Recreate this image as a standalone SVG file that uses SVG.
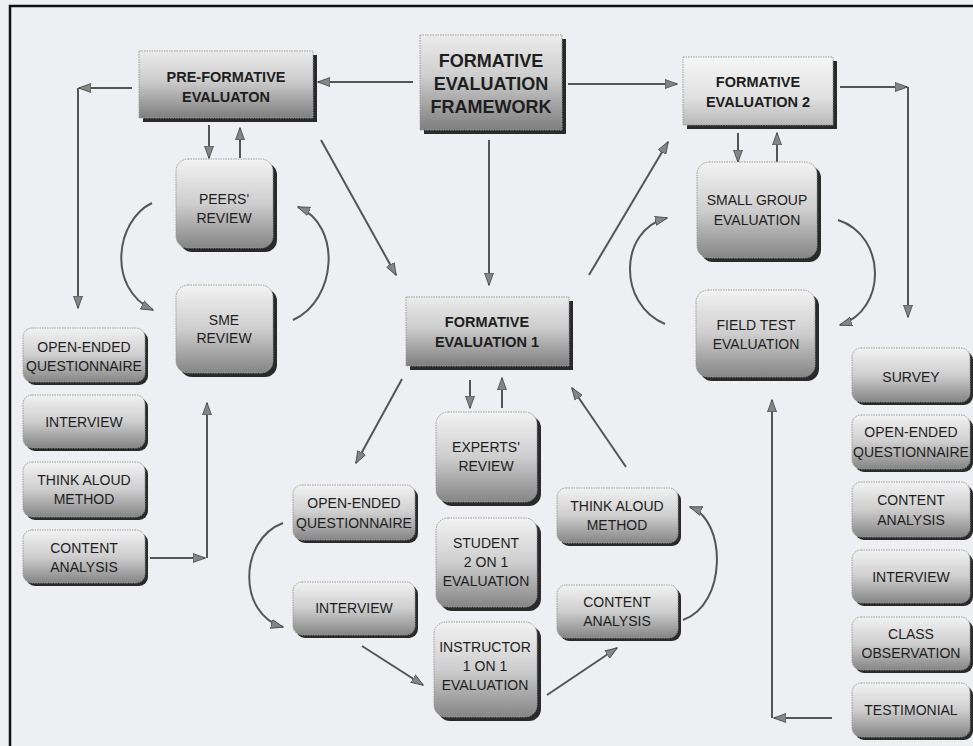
<svg xmlns="http://www.w3.org/2000/svg" width="973" height="746" viewBox="0 0 973 746">
<style>
.bg{fill:#edeff3}
.frame{fill:none;stroke:#111;stroke-width:2.5}
.sh{fill:#2a2a2a}
.hd{fill:url(#gHead);stroke:#9a9a9a;stroke-width:1;stroke-dasharray:1.5 1}
.lt{fill:url(#gLight);stroke:#9a9a9a;stroke-width:1;stroke-dasharray:1.5 1}
.rb{fill:url(#gRound);stroke:#9a9a9a;stroke-width:1;stroke-dasharray:1.5 1}
text{font-family:"Liberation Sans",Arial,sans-serif;fill:#1e1e1e;text-anchor:middle}
.t{font-size:14px}
.b{font-size:14.5px;font-weight:bold}
.big{font-size:18px;font-weight:bold}
.c{fill:none;stroke:#555;stroke-width:2}
</style>
<defs>
<linearGradient id="gHead" x1="0" y1="0" x2="0" y2="1">
<stop offset="0" stop-color="#ececec"/>
<stop offset="0.45" stop-color="#cccccc"/>
<stop offset="1" stop-color="#7e7e7e"/>
</linearGradient>
<linearGradient id="gLight" x1="0" y1="0" x2="0" y2="1">
<stop offset="0" stop-color="#f6f6f6"/>
<stop offset="0.6" stop-color="#e0e0e0"/>
<stop offset="1" stop-color="#b8b8b8"/>
</linearGradient>
<linearGradient id="gRound" x1="0" y1="0" x2="0" y2="1">
<stop offset="0" stop-color="#f2f2f2"/>
<stop offset="0.5" stop-color="#cecece"/>
<stop offset="1" stop-color="#858585"/>
</linearGradient>
<marker id="ah" markerUnits="userSpaceOnUse" markerWidth="13" markerHeight="10" refX="12" refY="5" orient="auto">
<path d="M0,0.5 L12.5,5 L0,9.5 Z" fill="#858585" stroke="#444" stroke-width="0.8"/>
</marker>
</defs>
<rect class="bg" x="0" y="0" width="973" height="746"/>
<path class="frame" d="M10,746 L10,6 L973,6"/>

<g id="connectors">
<path class="c" d="M132,88 L79,88" marker-end="url(#ah)"/>
<path class="c" d="M78,88 L78,308" marker-end="url(#ah)"/>
<path class="c" d="M413,82 L318,82" marker-end="url(#ah)"/>
<path class="c" d="M568,84 L677,84" marker-end="url(#ah)"/>
<path class="c" d="M840,87 L907,87" marker-end="url(#ah)"/>
<path class="c" d="M908,87 L908,317" marker-end="url(#ah)"/>
<path class="c" d="M209,125 L209,158" marker-end="url(#ah)"/>
<path class="c" d="M240,158 L240,128" marker-end="url(#ah)"/>
<path class="c" d="M738,133 L738,162" marker-end="url(#ah)"/>
<path class="c" d="M777,162 L777,133" marker-end="url(#ah)"/>
<path class="c" d="M489,140 L489,285" marker-end="url(#ah)"/>
<path class="c" d="M321,140 L396,275" marker-end="url(#ah)"/>
<path class="c" d="M589,275 L668,142" marker-end="url(#ah)"/>
<path class="c" d="M152,203 C116,220 106,288 153,310" marker-end="url(#ah)"/>
<path class="c" d="M293,320 C337,300 342,225 298,207" marker-end="url(#ah)"/>
<path class="c" d="M838,220 C887,236 887,310 840,325" marker-end="url(#ah)"/>
<path class="c" d="M665,324 C618,305 618,230 667,218" marker-end="url(#ah)"/>
<path class="c" d="M150,558 L205,558" marker-end="url(#ah)"/>
<path class="c" d="M207,558 L207,403" marker-end="url(#ah)"/>
<path class="c" d="M470,380 L470,408" marker-end="url(#ah)"/>
<path class="c" d="M502,408 L502,378" marker-end="url(#ah)"/>
<path class="c" d="M402,379 L356,463" marker-end="url(#ah)"/>
<path class="c" d="M283,523 C238,540 238,615 283,627" marker-end="url(#ah)"/>
<path class="c" d="M362,646 L423,685" marker-end="url(#ah)"/>
<path class="c" d="M547,695 L617,648" marker-end="url(#ah)"/>
<path class="c" d="M683,620 C727,605 727,520 690,507" marker-end="url(#ah)"/>
<path class="c" d="M626,467 L572,388" marker-end="url(#ah)"/>
<path class="c" d="M832,718 L774,718" marker-end="url(#ah)"/>
<path class="c" d="M772,718 L772,400" marker-end="url(#ah)"/>
</g>

<g id="pre-formative">
<rect class="sh" x="143" y="55" width="174" height="67"/>
<rect class="hd" x="139" y="51" width="174" height="67"/>
<text class="b" x="226" y="82">PRE-FORMATIVE</text>
<text class="b" x="226" y="102">EVALUATON</text>
</g>
<g id="framework">
<rect class="sh" x="424" y="39" width="142" height="95"/>
<rect class="hd" x="420" y="35" width="142" height="95"/>
<text class="big" x="491" y="67">FORMATIVE</text>
<text class="big" x="491" y="90">EVALUATION</text>
<text class="big" x="491" y="113">FRAMEWORK</text>
</g>
<g id="fe2">
<rect class="sh" x="687" y="61" width="150" height="68"/>
<rect class="lt" x="683" y="57" width="150" height="68"/>
<text class="b" x="758" y="87">FORMATIVE</text>
<text class="b" x="758" y="107">EVALUATION 2</text>
</g>
<g id="fe1">
<rect class="sh" x="410" y="301" width="163" height="69"/>
<rect class="hd" x="406" y="297" width="163" height="69"/>
<text class="b" x="487" y="327">FORMATIVE</text>
<text class="b" x="487" y="347">EVALUATION 1</text>
</g>

<g id="peers-review">
<rect class="sh" x="180" y="163" width="97" height="89" rx="12"/>
<rect class="rb" x="176" y="159" width="97" height="89" rx="12"/>
<text class="t" x="224" y="204">PEERS'</text>
<text class="t" x="224" y="223">REVIEW</text>
</g>
<g id="sme-review">
<rect class="sh" x="180" y="289" width="97" height="88" rx="12"/>
<rect class="rb" x="176" y="285" width="97" height="88" rx="12"/>
<text class="t" x="224" y="325">SME</text>
<text class="t" x="224" y="343">REVIEW</text>
</g>
<g id="small-group">
<rect class="sh" x="701" y="166" width="120" height="96" rx="12"/>
<rect class="rb" x="697" y="162" width="120" height="96" rx="12"/>
<text class="t" x="757" y="205">SMALL GROUP</text>
<text class="t" x="757" y="225">EVALUATION</text>
</g>
<g id="field-test">
<rect class="sh" x="700" y="294" width="119" height="87" rx="12"/>
<rect class="rb" x="696" y="290" width="119" height="87" rx="12"/>
<text class="t" x="756" y="330">FIELD TEST</text>
<text class="t" x="756" y="349">EVALUATION</text>
</g>

<g id="l-open-ended">
<rect class="sh" x="26" y="331" width="122" height="54" rx="9"/>
<rect class="rb" x="23" y="328" width="122" height="54" rx="9"/>
<text class="t" x="84" y="352">OPEN-ENDED</text>
<text class="t" x="84" y="371">QUESTIONNAIRE</text>
</g>
<g id="l-interview">
<rect class="sh" x="26" y="398" width="122" height="53" rx="9"/>
<rect class="rb" x="23" y="395" width="122" height="53" rx="9"/>
<text class="t" x="84" y="427">INTERVIEW</text>
</g>
<g id="l-think-aloud">
<rect class="sh" x="26" y="465" width="122" height="55" rx="9"/>
<rect class="rb" x="23" y="462" width="122" height="55" rx="9"/>
<text class="t" x="84" y="485">THINK ALOUD</text>
<text class="t" x="84" y="504">METHOD</text>
</g>
<g id="l-content">
<rect class="sh" x="26" y="533" width="122" height="53" rx="9"/>
<rect class="rb" x="23" y="530" width="122" height="53" rx="9"/>
<text class="t" x="84" y="553">CONTENT</text>
<text class="t" x="84" y="572">ANALYSIS</text>
</g>

<g id="experts-review">
<rect class="sh" x="440" y="416" width="101" height="90" rx="12"/>
<rect class="rb" x="436" y="412" width="101" height="90" rx="12"/>
<text class="t" x="486" y="452">EXPERTS'</text>
<text class="t" x="486" y="471">REVIEW</text>
</g>
<g id="student">
<rect class="sh" x="440" y="522" width="101" height="89" rx="12"/>
<rect class="rb" x="436" y="518" width="101" height="89" rx="12"/>
<text class="t" x="486" y="548">STUDENT</text>
<text class="t" x="486" y="567">2 ON 1</text>
<text class="t" x="486" y="586">EVALUATION</text>
</g>
<g id="instructor">
<rect class="sh" x="438" y="626" width="103" height="95" rx="12"/>
<rect class="rb" x="434" y="622" width="103" height="95" rx="12"/>
<text class="t" x="485" y="652">INSTRUCTOR</text>
<text class="t" x="485" y="671">1 ON 1</text>
<text class="t" x="485" y="690">EVALUATION</text>
</g>
<g id="b-open-ended">
<rect class="sh" x="296" y="488" width="122" height="55" rx="9"/>
<rect class="rb" x="293" y="485" width="122" height="55" rx="9"/>
<text class="t" x="354" y="508">OPEN-ENDED</text>
<text class="t" x="354" y="528">QUESTIONNAIRE</text>
</g>
<g id="b-interview">
<rect class="sh" x="296" y="585" width="122" height="53" rx="9"/>
<rect class="rb" x="293" y="582" width="122" height="53" rx="9"/>
<text class="t" x="354" y="613">INTERVIEW</text>
</g>
<g id="b-think-aloud">
<rect class="sh" x="560" y="491" width="121" height="55" rx="9"/>
<rect class="rb" x="557" y="488" width="121" height="55" rx="9"/>
<text class="t" x="617" y="511">THINK ALOUD</text>
<text class="t" x="617" y="530">METHOD</text>
</g>
<g id="b-content">
<rect class="sh" x="560" y="588" width="121" height="53" rx="9"/>
<rect class="rb" x="557" y="585" width="121" height="53" rx="9"/>
<text class="t" x="617" y="607">CONTENT</text>
<text class="t" x="617" y="626">ANALYSIS</text>
</g>

<g id="r-survey">
<rect class="sh" x="855" y="351" width="118" height="54" rx="9"/>
<rect class="rb" x="852" y="348" width="118" height="54" rx="9"/>
<text class="t" x="911" y="382">SURVEY</text>
</g>
<g id="r-open-ended">
<rect class="sh" x="855" y="418" width="118" height="54" rx="9"/>
<rect class="rb" x="852" y="415" width="118" height="54" rx="9"/>
<text class="t" x="911" y="437">OPEN-ENDED</text>
<text class="t" x="911" y="457">QUESTIONNAIRE</text>
</g>
<g id="r-content">
<rect class="sh" x="855" y="485" width="118" height="55" rx="9"/>
<rect class="rb" x="852" y="482" width="118" height="55" rx="9"/>
<text class="t" x="911" y="505">CONTENT</text>
<text class="t" x="911" y="525">ANALYSIS</text>
</g>
<g id="r-interview">
<rect class="sh" x="855" y="553" width="118" height="53" rx="9"/>
<rect class="rb" x="852" y="550" width="118" height="53" rx="9"/>
<text class="t" x="911" y="582">INTERVIEW</text>
</g>
<g id="r-class-observation">
<rect class="sh" x="855" y="620" width="118" height="53" rx="9"/>
<rect class="rb" x="852" y="617" width="118" height="53" rx="9"/>
<text class="t" x="911" y="639">CLASS</text>
<text class="t" x="911" y="658">OBSERVATION</text>
</g>
<g id="r-testimonial">
<rect class="sh" x="855" y="686" width="118" height="54" rx="9"/>
<rect class="rb" x="852" y="683" width="118" height="54" rx="9"/>
<text class="t" x="911" y="715">TESTIMONIAL</text>
</g>
</svg>
